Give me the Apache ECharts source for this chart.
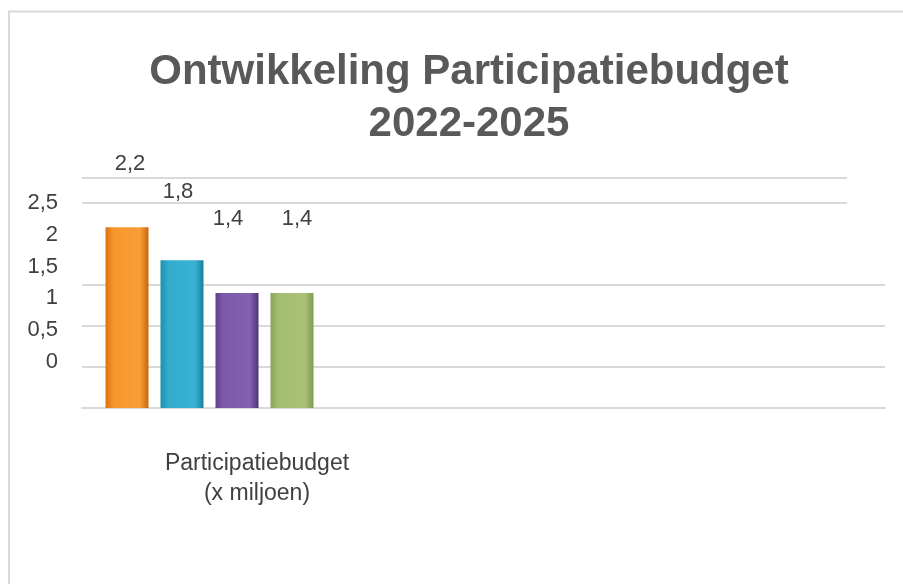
<!DOCTYPE html>
<html>
<head>
<meta charset="utf-8">
<script src="https://cdn.jsdelivr.net/npm/echarts@6/dist/echarts.min.js"></script>
<style>
  html, body { margin: 0; padding: 0; background: #fff; }
  #chart { width: 903px; height: 584px; }
</style>
</head>
<body>
<div id="chart"></div>
<script>
// ---- data ----
const categories = ['Participatiebudget\n(x miljoen)', '', ''];
const seriesNames = ['2022', '2023', '2024', '2025'];
const seriesValues = [2.2, 1.8, 1.4, 1.4];
const yTickValues = [0, 0.5, 1, 1.5, 2, 2.5];
const titleText = 'Ontwikkeling Participatiebudget\n2022-2025';

// ---- styles (kept separate from data) ----
const barColors = [
  ['#d9740f', '#f7962c', '#f99d36', '#c9650c'],
  ['#1f8fae', '#33acce', '#3ab2d3', '#1a7f9c'],
  ['#5f3f8a', '#7d5aa9', '#8461b0', '#4f3375'],
  ['#8aa55a', '#a3bd72', '#a9c278', '#7f9a50']
];
const labelDist = [52, 57, 63, 63];
const labelShift = [3, -4, -9, 5];
const FONT = '"Liberation Sans", Arial, sans-serif';
const GRID = '#d9d9d9';
const NONE = 'rgba(0,0,0,0)';

function grad(c) {
  return new echarts.graphic.LinearGradient(0, 0, 1, 0, [
    { offset: 0, color: c[0] },
    { offset: 0.18, color: c[1] },
    { offset: 0.8, color: c[2] },
    { offset: 1, color: c[3] }
  ]);
}

const chart = echarts.init(document.getElementById('chart'), null, { renderer: 'canvas' });

const series = seriesNames.map((name, i) => ({
  name: name,
  type: 'bar',
  xAxisIndex: 1,
  yAxisIndex: 1,
  barWidth: 43,
  barGap: (12 / 43 * 100).toFixed(1) + '%',
  data: [seriesValues[i], null, null],
  itemStyle: { color: grad(barColors[i]) },
  label: {
    show: true,
    position: 'top',
    distance: labelDist[i],
    offset: [labelShift[i], 0],
    color: '#404040',
    fontSize: 22,
    fontFamily: FONT,
    formatter: p => String(p.value).replace('.', ',')
  }
}));

const option = {
  animation: false,
  backgroundColor: '#ffffff',
  textStyle: { fontFamily: FONT },
  title: {
    text: titleText,
    left: 464,
    top: 41,
    textAlign: 'center',
    textStyle: {
      fontSize: 42,
      fontWeight: 'bold',
      color: '#595959',
      fontFamily: FONT,
      lineHeight: 52
    }
  },
  graphic: [{
    type: 'rect',
    shape: { x: 9, y: 11.5, width: 2000, height: 2000 },
    style: { fill: 'none', stroke: GRID, lineWidth: 2 },
    silent: true,
    z: -1
  }],
  grid: [
    { left: 82, right: 18, top: 178, bottom: 176 },
    { left: 82, right: 56, top: 178, bottom: 176 },
    { left: 82, right: 18, top: 203, bottom: 222 }
  ],
  xAxis: [
    {
      type: 'category',
      gridIndex: 0,
      data: categories,
      axisTick: { show: false },
      axisLine: { show: true, lineStyle: { color: GRID, width: 2 } },
      axisLabel: { show: false }
    },
    {
      type: 'category',
      gridIndex: 1,
      data: categories,
      axisTick: { show: false },
      axisLine: { show: false },
      axisLabel: {
        interval: 0,
        margin: 41,
        fontSize: 23,
        lineHeight: 30,
        color: '#404040',
        fontFamily: FONT,
        padding: [0, 0, 0, 95]
      }
    },
    { type: 'value', gridIndex: 2, show: false }
  ],
  yAxis: [
    {
      type: 'value',
      gridIndex: 0,
      min: 0,
      max: 2.8,
      interval: 0.5,
      axisLine: { show: false },
      axisTick: { show: false },
      axisLabel: { show: false },
      splitLine: {
        show: true,
        lineStyle: { width: 2, color: [GRID, GRID, GRID, GRID, NONE, NONE, NONE] }
      }
    },
    {
      type: 'value',
      gridIndex: 1,
      min: 0,
      max: 2.8,
      interval: 0.5,
      axisLine: { show: false },
      axisTick: { show: false },
      axisLabel: { show: false },
      splitLine: {
        show: true,
        lineStyle: { width: 2, color: [NONE, NONE, NONE, NONE, NONE, GRID, GRID] }
      }
    },
    {
      type: 'value',
      gridIndex: 2,
      min: yTickValues[0],
      max: yTickValues[yTickValues.length - 1],
      interval: 0.5,
      axisLine: { show: false },
      axisTick: { show: false },
      splitLine: { show: false },
      axisLabel: {
        show: true,
        margin: 24,
        fontSize: 22,
        color: '#404040',
        fontFamily: FONT,
        formatter: v => String(v).replace('.', ',')
      }
    }
  ],
  series: series
};

chart.setOption(option);
</script>
</body>
</html>
